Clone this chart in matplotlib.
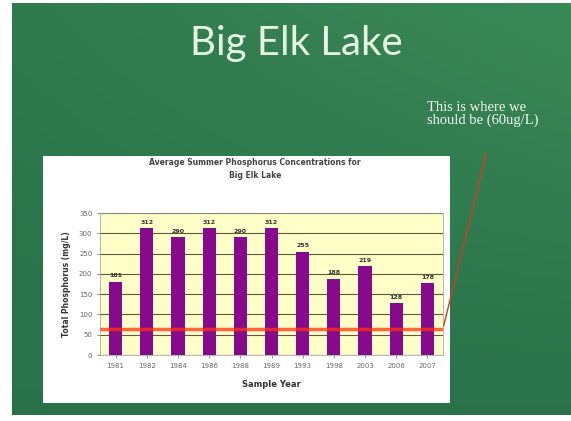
import numpy as np
import matplotlib
matplotlib.use('Agg')
from matplotlib import pyplot as plt

years = ['1981', '1982', '1984', '1986', '1988', '1989', '1993', '1998', '2003', '2006', '2007']
phosphorus = [181, 312, 290, 312, 290, 312, 255, 188, 219, 128, 178]
target = 65
yticks = [0, 50, 100, 150, 200, 250, 300, 350]

W, H = 571, 421
fig = plt.figure(figsize=(W / 100, H / 100), dpi=100, facecolor='white')

# slide background: green gradient
bg = fig.add_axes([12 / W, 6 / H, 1 - 12 / W, 1 - 9 / H])
gx, gy = np.meshgrid(np.linspace(0, 1, 200), np.linspace(0, 1, 150))
dark = np.array([0.11, 0.38, 0.25])
light = np.array([0.28, 0.60, 0.38])
t = np.clip(0.30 + 0.40 * gx * (1 - gy) + 0.15 * (1 - gy) * (1 - gx), 0, 1)
img = dark[None, None, :] * (1 - t[..., None]) + light[None, None, :] * t[..., None]
bg.imshow(img, aspect='auto', extent=[0, 1, 0, 1], origin='upper')
bg.set_xlim(0, 1)
bg.set_ylim(0, 1)
bg.axis('off')

fig.text(296 / W, 1 - 43 / H, 'Big Elk Lake', ha='center', va='center',
         fontsize=29, family='Lato', color='#e6f4e2')
fig.text(427 / W, 1 - 114 / H, 'This is where we\nshould be (60ug/L)', ha='left', va='center',
         fontsize=10.5, family='Liberation Serif', color='#f2f8ee', linespacing=1.0)

# white chart box
box = fig.add_axes([43 / W, 18 / H, (450 - 43) / W, (403 - 156) / H])
box.set_facecolor('white')
box.set_xticks([])
box.set_yticks([])
for s in box.spines.values():
    s.set_visible(False)

ax = fig.add_axes([100 / W, (421 - 355) / H, (443 - 100) / W, (355 - 213) / H])
ax.set_facecolor('#ffffc8')
x = np.arange(len(years))
ax.bar(x, phosphorus, width=0.42, color='#880a8c', zorder=3)
for xi, v in zip(x, phosphorus):
    ax.text(xi, v + 8, str(v), ha='center', va='bottom', fontsize=4.5,
            fontweight='bold', color='#333333', zorder=4)
ax.set_xlim(-0.5, len(years) - 0.5)
ax.set_ylim(0, 350)
ax.set_yticks(yticks)
ax.set_xticks(x)
ax.set_xticklabels(years)
ax.tick_params(labelsize=5, colors='#666666', length=2, width=0.5)
ax.grid(axis='y', color='#5a5a3a', linewidth=0.8, zorder=1)
for s in ax.spines.values():
    s.set_color('#999999')
    s.set_linewidth(0.5)
ax.set_xlabel('Sample Year', fontsize=6, fontweight='bold', color='#333333', labelpad=8)
ax.set_ylabel('Total Phosphorus (mg/L)', fontsize=5.5, fontweight='bold', color='#333333', labelpad=6)
fig.text(255 / W, 1 - 169 / H, 'Average Summer Phosphorus Concentrations for\nBig Elk Lake',
         ha='center', va='center', fontsize=5.5, fontweight='bold', color='#444444', linespacing=1.6)

# target line and pointer to the note
ax.plot([-0.5, len(years) - 0.5], [target, target], color='#ff3010', alpha=0.75,
        linewidth=2.5, zorder=5, solid_capstyle='butt')
ax.annotate('', xy=(len(years) - 0.5, target), xycoords='data',
            xytext=(487 / W, 1 - 150 / H), textcoords='figure fraction',
            arrowprops=dict(arrowstyle='-', color='#d83a20', linewidth=1.0),
            annotation_clip=False)

fig.savefig('out.png', dpi=100, facecolor='white')
